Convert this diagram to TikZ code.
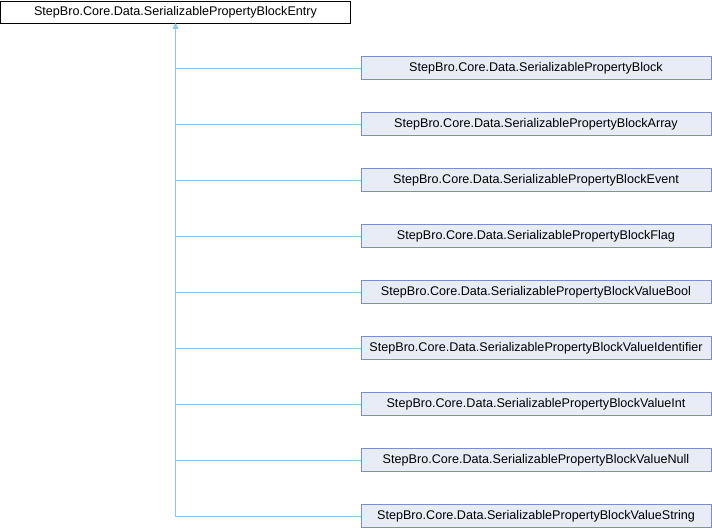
\documentclass[tikz,border=0pt]{standalone}
\usepackage{fontspec}
\setmainfont{Liberation Sans}
\usetikzlibrary{arrows.meta}

\definecolor{boxfill}{HTML}{E8ECF6}
\definecolor{boxline}{HTML}{7C8FCB}
\definecolor{edgeline}{HTML}{92C6E6}

\begin{document}
\begin{tikzpicture}[x=1pt, y=-1pt,
    base/.style={draw=black, fill=white, minimum width=350pt, minimum height=22pt,
        inner sep=0pt, font=\fontsize{12.6}{14}\selectfont},
    derived/.style={draw=boxline, fill=boxfill, minimum width=350pt, minimum height=23pt,
        inner sep=0pt, font=\fontsize{12.6}{14}\selectfont},
    edge/.style={draw=edgeline, line width=0.8pt, {Triangle[length=5pt,width=5pt]}-}]

    \useasboundingbox (0, 0) rectangle (712, 528);

    \node[base] (entry) at (175.5, 12.5) {StepBro.Core.Data.SerializablePropertyBlockEntry};

    \node[derived] (block) at (536, 68) {StepBro.Core.Data.SerializablePropertyBlock};
    \node[derived] (array) at (536, 124) {StepBro.Core.Data.SerializablePropertyBlockArray};
    \node[derived] (event) at (536, 180) {StepBro.Core.Data.SerializablePropertyBlockEvent};
    \node[derived] (flag) at (536, 236) {StepBro.Core.Data.SerializablePropertyBlockFlag};
    \node[derived] (bool) at (536, 292) {StepBro.Core.Data.SerializablePropertyBlockValueBool};
    \node[derived] (ident) at (536, 348) {StepBro.Core.Data.SerializablePropertyBlockValueIdentifier};
    \node[derived] (int) at (536, 404) {StepBro.Core.Data.SerializablePropertyBlockValueInt};
    \node[derived] (null) at (536, 460) {StepBro.Core.Data.SerializablePropertyBlockValueNull};
    \node[derived] (string) at (536, 516) {StepBro.Core.Data.SerializablePropertyBlockValueString};

    \draw[edge] (entry.south) |- (block.west);
    \draw[edge] (entry.south) |- (array.west);
    \draw[edge] (entry.south) |- (event.west);
    \draw[edge] (entry.south) |- (flag.west);
    \draw[edge] (entry.south) |- (bool.west);
    \draw[edge] (entry.south) |- (ident.west);
    \draw[edge] (entry.south) |- (int.west);
    \draw[edge] (entry.south) |- (null.west);
    \draw[edge] (entry.south) |- (string.west);

\end{tikzpicture}
\end{document}
